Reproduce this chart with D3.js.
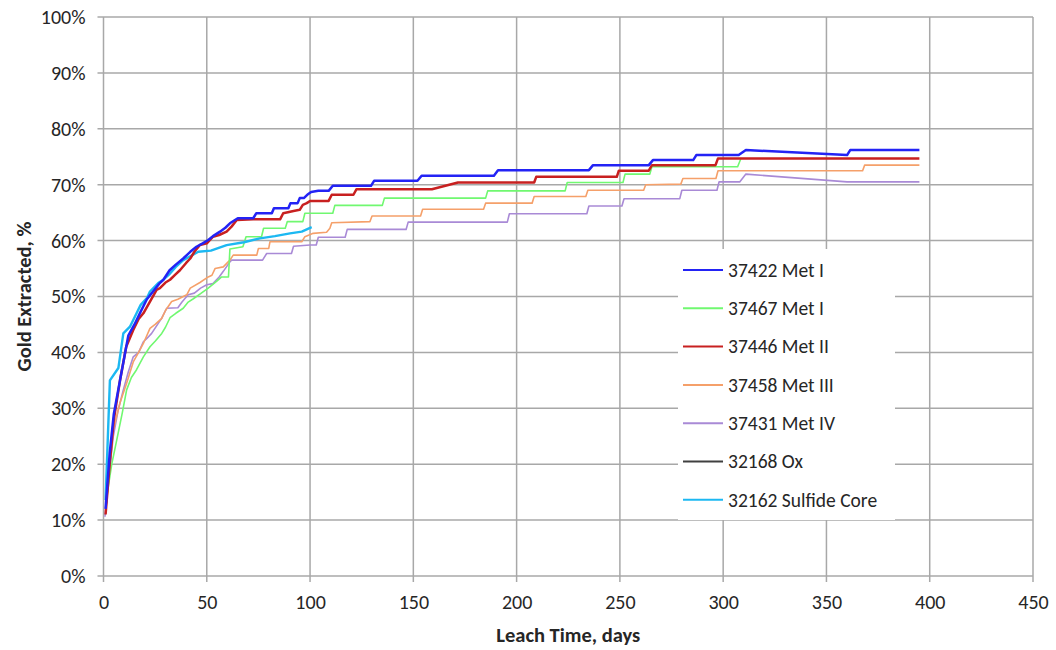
<!DOCTYPE html>
<html><head><meta charset="utf-8">
<script src="https://cdn.jsdelivr.net/npm/d3@7"></script>
<style>
body{margin:0;background:#fff;}
svg text{font-family:Carlito,"Liberation Sans Narrow","Liberation Sans",sans-serif;fill:#262626;}
</style></head>
<body><svg id="c" width="1056" height="650"></svg>
<script>
// ---- data (day, % gold extracted) ----
const xTicks = [0,50,100,150,200,250,300,350,400,450];
const yTicks = [0,10,20,30,40,50,60,70,80,90,100];
const seriesNames = ["37422 Met I","37467 Met I","37446 Met II","37458 Met III","37431 Met IV","32168 Ox","32162 Sulfide Core"];
const seriesColors = ["#2323f5","#70f870","#c82020","#f5a06a","#a98ad6","#404040","#1cb8f2"];
const seriesWidths = [2.5,1.6,2.5,1.6,1.6,1.6,2.4];

const s37422 = [[1,12],[3,22],[5,29],[8,35],[10,39],[12,43],[15,45],[18,47.3],[21,49.5],[24,50.9],[27,52.3],[29,53],[32,54.7],[35,55.7],[38.6,56.8],[42,58],[45,58.9],[48,59.5],[50.7,60.1],[53,60.8],[56.4,61.6],[59,62.3],[61.2,63.1],[65,64],[72.5,64],[74,64.9],[81.5,64.9],[82.5,65.8],[89.5,65.8],[90.5,66.7],[94,66.7],[95,67.6],[97,67.6],[99,68.3],[100.5,68.7],[104,68.9],[109,68.9],[111,69.8],[129.5,69.8],[131,70.7],[152,70.7],[154,71.6],[189,71.6],[191,72.6],[235,72.6],[237,73.5],[264,73.5],[266,74.4],[285.5,74.4],[287,75.3],[307.5,75.3],[311,76.2],[360,75.3],[361.5,76.2],[395,76.2]];
const s37467 = [[1.5,14],[4,20],[6.4,24.3],[9,29],[11.2,33.3],[13.5,35.5],[16,36.9],[19.3,39.2],[22.5,41],[25,42],[28.2,43.4],[30,44.5],[32.2,46.2],[35,47],[38.6,47.9],[41,49],[43.5,49.6],[47,50.5],[50.7,51.5],[55,52.8],[57.2,53.5],[60.5,53.5],[61.2,58.5],[67.5,58.9],[69,60.7],[76.5,60.7],[77.5,62.2],[88,62.2],[89,63.4],[96.5,63.4],[97.5,64.9],[111,64.9],[112,66.3],[135,66.3],[136,67.6],[185,67.6],[186,68.9],[223.5,68.9],[224.5,70.4],[251.5,70.4],[252.5,71.9],[264.5,71.9],[265.5,73.2],[307,73.2],[308.5,74.6]];
const s37446 = [[1,11],[3,20],[5,28],[8,35],[11,41],[14.4,44],[17,46],[19.3,47],[22.5,49.1],[25.7,51.2],[27.3,51.5],[30,52.5],[32.2,53],[35,54],[37,54.7],[40,56],[42,56.8],[44,58],[46.7,59.2],[50,59.5],[53,60.7],[56,61],[59.6,61.6],[62,62.5],[64.5,63.7],[72.5,63.8],[85.5,63.8],[87,64.9],[92,65.3],[95,65.5],[96.5,66.4],[98.4,66.7],[100,67.1],[109,67.1],[110.5,68.2],[121,68.2],[122.5,69.2],[159,69.2],[171.6,70.4],[208.5,70.4],[209.5,71.4],[248.5,71.4],[249.5,72.5],[264,72.5],[265.5,73.5],[296.3,73.5],[297.5,74.7],[395,74.7]];
const s37458 = [[1.5,13],[3,20],[4.7,26.1],[8,31],[11.2,34.5],[14.4,38.3],[17,40],[19.3,41.6],[22.5,44.3],[25,45],[28.2,46.1],[30,47.5],[33,49.1],[36,49.5],[40.3,50.3],[42,51.5],[46.7,52.5],[50.7,53.5],[52.5,53.8],[54,55],[58,55.3],[61.2,56.5],[62.8,57.4],[74.2,57.4],[75,58.6],[80,58.6],[80.6,59.8],[96,59.8],[97.5,60.7],[101.5,61.3],[108,61.5],[109.6,62.2],[110.5,63.2],[129,63.4],[130,64.4],[153.5,64.4],[154.5,65.6],[184,65.6],[185,66.7],[207.5,66.7],[208.5,67.9],[233.5,67.9],[234.5,69],[261.5,69],[262.5,70],[279.5,70.1],[280.5,71.1],[296.5,71.1],[297.5,72.5],[367.5,72.5],[368.5,73.5],[395,73.5]];
const s37431 = [[0.7,10.6],[3,19],[4.7,24.9],[7,29.5],[9.6,33.3],[12,36.5],[14.4,39.2],[17,40],[19.3,41.9],[21,42.5],[23.3,43.4],[26.5,45.2],[28,46],[30.6,47.9],[36,48],[38,49],[41,50.3],[44,50.6],[47,51.5],[50,52.1],[53,52.3],[56,53.5],[58,54.5],[61.2,56.2],[62,56.5],[77,56.5],[79,57.7],[91,57.7],[92,59],[100,59.2],[103,59.2],[104,60.6],[117,60.6],[118,62],[146.5,62],[147.5,63.3],[195.5,63.3],[196.5,64.8],[234,64.8],[235,66.2],[251,66.2],[252,67.5],[279,67.5],[280,69],[297,69],[298,70.5],[308,70.5],[311,71.9],[360,70.5],[395,70.5]];
const s32168 = [];
const s32162 = [[1,13.6],[3.1,35],[7.2,37.2],[9.6,43.4],[12.8,44.6],[16,47],[18,48.5],[21,49.7],[22.5,50.9],[26.5,52.4],[29,53],[32.2,54.1],[35,55.3],[38.6,56.5],[42,57.2],[45.9,58],[52,58.2],[59.6,59.2],[68,59.7],[75.7,60.4],[83,60.8],[90.3,61.3],[96,61.6],[100.8,62.4]];
const allSeries = [s37422,s37467,s37446,s37458,s37431,s32168,s32162];
const drawOrder = [4,3,1,6,2,0,5];

// ---- layout ----
const L=103.5, R=1033, T=17, B=576;
const svg=d3.select("#c");
const x=d3.scaleLinear().domain([0,450]).range([L,R]);
const y=d3.scaleLinear().domain([0,100]).range([B,T]);
const gridColor="#a8a8a8";

// grid
svg.append("g").selectAll("line").data(yTicks).join("line")
  .attr("x1",L-6).attr("x2",R).attr("y1",d=>y(d)).attr("y2",d=>y(d))
  .attr("stroke",gridColor).attr("stroke-width",1.5);
svg.append("g").selectAll("line").data(xTicks).join("line")
  .attr("x1",d=>x(d)).attr("x2",d=>x(d)).attr("y1",T).attr("y2",B+6)
  .attr("stroke",gridColor).attr("stroke-width",1.5);

// axes labels
const yAxis=d3.axisLeft(y).tickValues(yTicks).tickFormat(d=>d+"%").tickSize(0).tickPadding(18);
const gy=svg.append("g").attr("transform",`translate(${L},0)`).call(yAxis);
gy.select(".domain").remove();
gy.selectAll("text").attr("font-size",20).style("fill","#262626");
const xAxis=d3.axisBottom(x).tickValues(xTicks).tickSize(0).tickPadding(19);
const gx=svg.append("g").attr("transform",`translate(0,${B})`).call(xAxis);
gx.select(".domain").remove();
gx.selectAll("text").attr("font-size",20).style("fill","#262626");

// lines
const line=d3.line().x(d=>x(d[0])).y(d=>y(d[1]));
svg.append("g").selectAll("path").data(drawOrder.filter(i=>allSeries[i].length)).join("path")
  .attr("d",i=>line(allSeries[i])).attr("fill","none")
  .attr("stroke",i=>seriesColors[i]).attr("stroke-width",i=>seriesWidths[i])
  .attr("stroke-linejoin","round");

// legend
const lg=svg.append("g");
lg.append("rect").attr("x",678).attr("y",249).attr("width",217).attr("height",271).attr("fill","#fff");
const items=lg.selectAll("g").data(seriesNames).join("g")
  .attr("transform",(d,i)=>`translate(683,${270+i*38.3})`);
items.append("line").attr("x1",0).attr("x2",40).attr("y1",0).attr("y2",0)
  .attr("stroke",(d,i)=>seriesColors[i]).attr("stroke-width",2);
items.append("text").attr("x",45).attr("y",0).attr("dy","0.35em").attr("font-size",19.5).text(d=>d);

// titles
svg.append("text").attr("x",(L+R)/2).attr("y",642).attr("text-anchor","middle")
  .attr("font-size",20.5).attr("font-weight","bold").text("Leach Time, days");
svg.append("text").attr("transform",`translate(24,${(T+B)/2}) rotate(-90)`).attr("text-anchor","middle")
  .attr("dy","0.35em").attr("font-size",20.5).attr("font-weight","bold").text("Gold Extracted, %");
</script></body></html>
